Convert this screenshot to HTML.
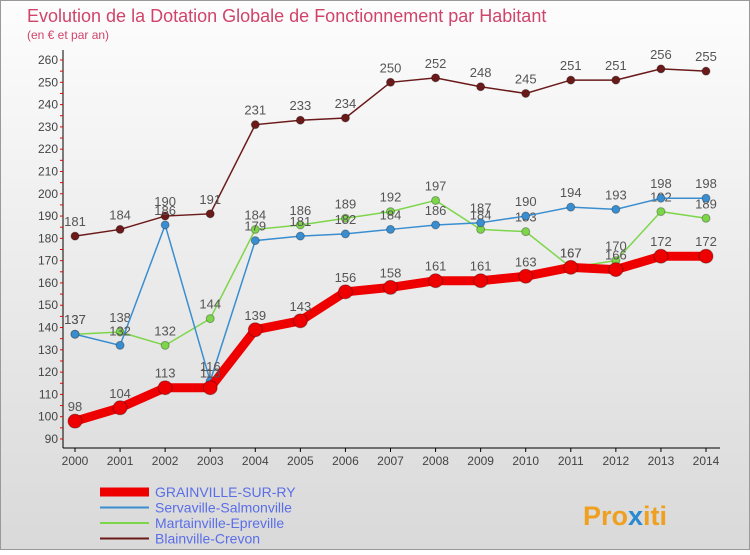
<!DOCTYPE html>
<html><head><meta charset="utf-8"><style>
body{margin:0;width:750px;height:550px;overflow:hidden;font-family:"Liberation Sans",sans-serif}
</style></head><body>
<svg width="750" height="550" xmlns="http://www.w3.org/2000/svg">
<defs><linearGradient id="bg" x1="0" y1="0" x2="0" y2="1"><stop offset="0" stop-color="#fdfdfd"/><stop offset="1" stop-color="#d9d9d9"/></linearGradient></defs>
<rect x="0.5" y="0.5" width="749" height="549" fill="url(#bg)" stroke="#999"/>
<text x="27" y="22" font-size="18" fill="#d0446a" font-weight="300">Evolution de la Dotation Globale de Fonctionnement par Habitant</text>
<text x="27" y="39" font-size="12" fill="#d0446a">(en € et par an)</text>
<g id="axes"></g><g id="series"></g><g id="legend"></g>
<text x="583" y="525" font-size="27" font-weight="bold" fill="#f0a020">Pro<tspan fill="#2a8ad0">x</tspan>iti</text>
</svg>
<script>
const years=[2000,2001,2002,2003,2004,2005,2006,2007,2008,2009,2010,2011,2012,2013,2014];
const grain=[98,104,113,113,139,143,156,158,161,161,163,167,166,172,172];
const serva=[137,132,186,116,179,181,182,184,186,187,190,194,193,198,198];
const marta=[137,138,132,144,184,186,189,192,197,184,183,167,170,192,189];
const blain=[181,184,190,191,231,233,234,250,252,248,245,251,251,256,255];
const yTicks=[90,100,110,120,130,140,150,160,170,180,190,200,210,220,230,240,250,260];
const NS="http://www.w3.org/2000/svg";
const X=i=>75+i*(706-75)/14;
const Y=v=>439-(v-90)*(379/170);
function mk(t,a,p){const e=document.createElementNS(NS,t);for(const k in a)e.setAttribute(k,a[k]);p.appendChild(e);return e;}
const ax=document.getElementById('axes');
let l=mk('line',{x1:63,y1:50,x2:63,y2:448,stroke:'#000'},ax);


l=mk('line',{x1:63,y1:448,x2:720,y2:448,stroke:'#000'},ax);


yTicks.forEach(v=>{
 const t=mk('text',{x:58,y:Y(v)+4,'font-size':12,'text-anchor':'end',fill:'#444'},ax);t.textContent=v;
 
 
 mk('line',{x1:60,x2:63,y1:Y(v),y2:Y(v),stroke:'#e00'},ax);
 if(v<260) mk('line',{x1:60,x2:63,y1:Y(v+5),y2:Y(v+5),stroke:'#e00'},ax);
});
years.forEach((yr,i)=>{
 const t=mk('text',{x:X(i),y:465,'font-size':12,'text-anchor':'middle',fill:'#444'},ax);t.textContent=yr;
 
 
 mk('line',{x1:X(i),x2:X(i),y1:448,y2:452,stroke:'#000'},ax);
});
const sg=document.getElementById('series');
function series(vals,color,w,r,name){
 const g=mk('g',{},sg);
 
 
 mk('polyline',{points:vals.map((v,i)=>X(i)+','+Y(v)).join(' '),fill:'none',stroke:color,'stroke-width':w},g);
 vals.forEach((v,i)=>{
  const c=mk('circle',{cx:X(i),cy:Y(v),r:r,fill:color,stroke:'rgba(0,0,0,0.3)'},g);
  
  
  const t=mk('text',{x:X(i),y:Y(v)-10,'font-size':13,'text-anchor':'middle',fill:'#555'},g);t.textContent=v;
  
  
 });
}
series(blain,'#6b1a1a',1.5,4,'blainville-series');
series(marta,'#7dd64a',1.5,4,'martainville-series');
series(serva,'#3a8ed0',1.5,4,'servaville-series');
series(grain,'#ee0000',9,7,'grainville-series');
const lg=document.getElementById('legend');
const items=[['GRAINVILLE-SUR-RY','#ee0000',9],['Servaville-Salmonville','#3a8ed0',2],['Martainville-Epreville','#7dd64a',2],['Blainville-Crevon','#6b1a1a',2]];
items.forEach((it,i)=>{
 const y=492+i*15.5;
 const g=mk('g',{},lg);
 
 
 mk('line',{x1:100,x2:149,y1:y,y2:y,stroke:it[1],'stroke-width':it[2]},g);
 const t=mk('text',{x:155,y:y+5,'font-size':14,fill:'#5a6ee8'},g);t.textContent=it[0];
});
</script>
</body></html>
